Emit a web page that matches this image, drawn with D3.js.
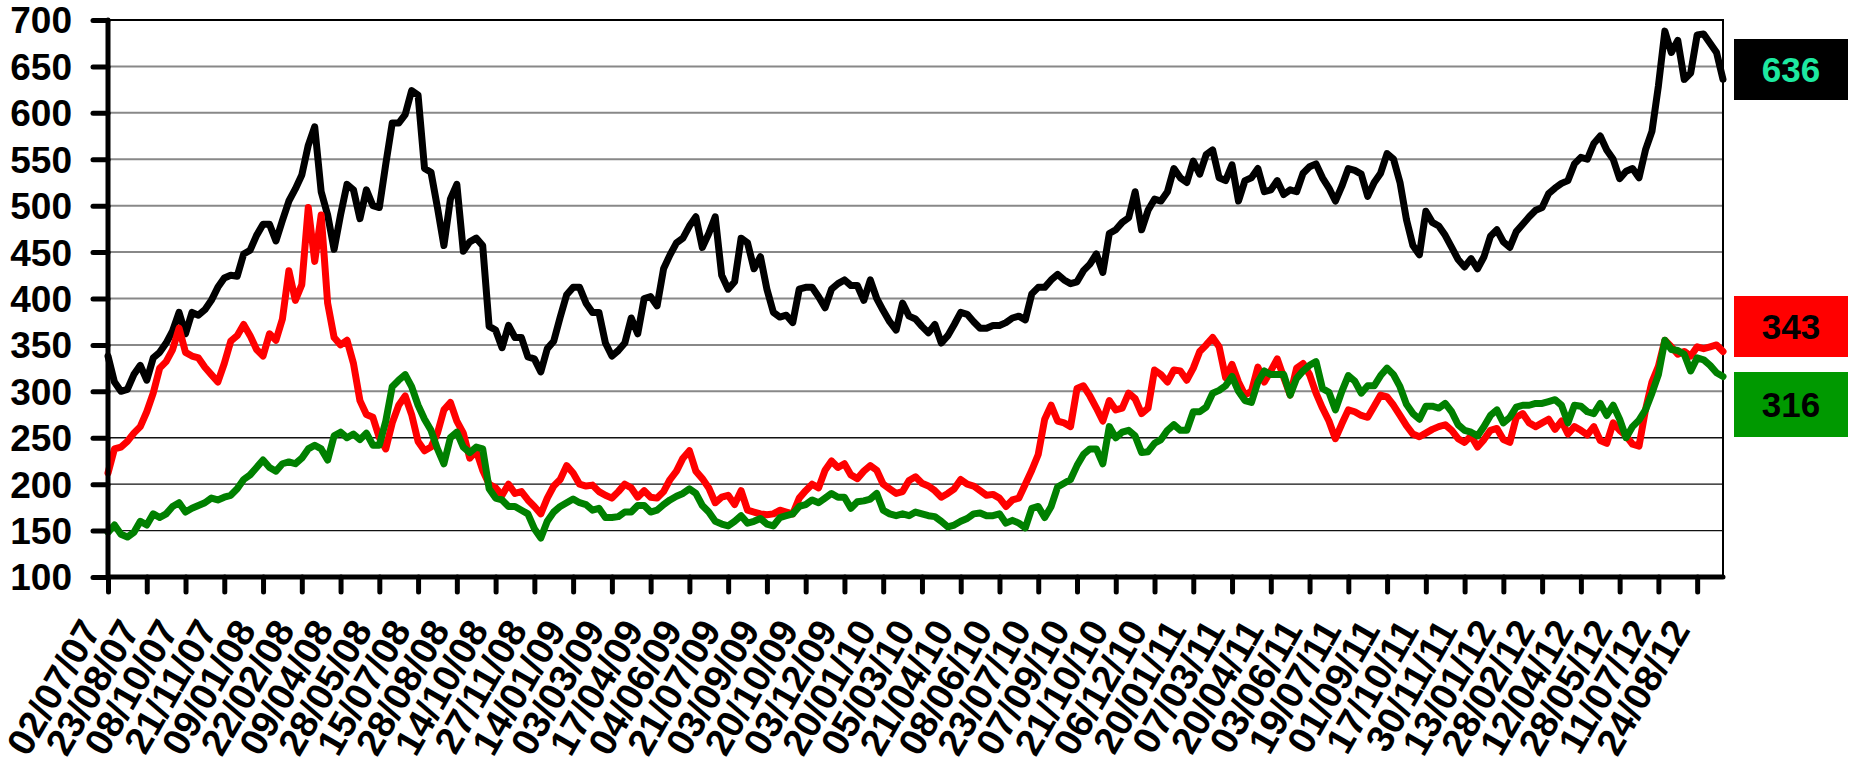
<!DOCTYPE html>
<html>
<head>
<meta charset="utf-8">
<script src="https://cdn.jsdelivr.net/npm/d3@7/dist/d3.min.js"></script>
<style>
	html, body { margin: 0; padding: 0; background: #fff; }
	#chart { width: 1854px; height: 763px; }
	#chart text { font-family: Arial, "Liberation Sans", sans-serif; font-weight: bold; }
</style>
</head>
<body>
<div id="chart"></div>
<script>
//series, 6 samples per labelled interval
var blackSeries = [
	338,310,300,302,318,328,312,336,342,352,
	365,385,362,385,382,388,398,412,422,425,
	424,448,452,468,480,480,462,484,505,518,
	533,565,585,515,490,453,490,523,517,486,
	517,500,498,545,589,589,598,624,619,540,
	536,498,457,507,523,451,461,465,457,370,
	366,347,371,358,358,337,335,321,346,354,
	380,404,412,412,395,385,385,352,338,344,
	352,379,362,400,402,392,432,447,460,465,
	478,488,455,470,488,425,410,418,465,460,
	432,445,410,385,380,382,374,410,412,412,
	402,390,410,416,420,414,414,398,420,400,
	387,375,366,395,381,378,370,363,372,352,
	360,372,385,383,375,368,368,371,371,374,
	379,381,377,405,412,412,420,426,420,416,
	418,430,437,448,428,470,474,482,487,515,
	474,495,507,505,515,540,530,525,548,534,
	555,560,530,527,544,505,527,530,540,515,
	517,527,512,517,515,535,542,545,530,519,
	505,521,540,538,534,510,525,535,556,550,
	525,485,457,447,494,482,478,468,455,442,
	434,443,432,445,467,474,461,455,472,480,
	488,495,498,513,519,524,527,545,552,550,
	567,575,560,550,529,537,540,530,560,580,
	629,688,665,678,636,643,684,685,675,665,
	636
];

var redSeries = [
	212,238,240,246,255,262,278,298,325,332,
	345,368,342,338,336,326,318,310,330,354,
	360,372,360,345,338,362,355,378,430,398,
	415,498,440,490,395,358,350,355,330,290,
	275,272,250,238,266,285,295,275,246,236,
	240,255,280,288,268,255,228,236,215,200,
	196,188,200,190,192,183,176,168,185,198,
	205,220,212,200,198,199,192,188,185,192,
	200,196,186,193,186,185,192,205,214,228,
	236,214,206,196,180,186,188,178,193,172,
	170,168,167,168,172,170,168,185,193,200,
	196,215,225,218,222,210,206,214,220,215,
	200,195,190,192,204,208,201,198,193,186,
	190,195,205,200,198,193,188,189,185,176,
	183,185,200,215,232,270,285,268,266,262,
	303,306,295,282,268,290,280,282,298,292,
	276,282,323,318,310,323,322,312,325,343,
	350,358,348,315,329,310,296,300,326,310,
	322,335,315,296,325,330,318,298,282,268,
	249,265,280,278,274,272,284,296,294,285,
	274,263,254,251,255,259,262,264,258,249,
	245,252,240,248,258,260,248,245,272,276,
	266,262,266,270,259,268,254,262,258,253,
	262,247,244,266,258,252,243,241,280,310,
	327,355,348,340,343,338,348,346,348,350,
	343
];

var greenSeries = [
	148,156,146,143,148,160,156,168,164,168,
	176,180,170,174,177,180,185,183,186,188,
	195,205,210,218,226,218,214,222,224,222,
	228,238,242,238,226,252,256,250,254,248,
	255,242,242,268,305,312,318,305,285,270,
	258,238,222,250,256,240,234,240,238,195,
	185,183,176,176,172,168,152,142,160,170,
	176,180,184,180,178,172,174,164,164,165,
	170,170,177,177,170,172,178,183,187,190,
	195,190,177,170,160,157,155,160,166,158,
	160,163,157,155,164,166,168,176,178,183,
	180,185,190,186,186,174,181,182,184,190,
	172,168,166,168,166,170,168,166,165,160,
	154,156,160,163,168,169,166,166,168,158,
	161,158,153,174,176,164,176,197,201,205,
	220,232,238,238,222,262,250,256,258,252,
	234,235,244,248,258,264,258,258,278,278,
	283,298,301,306,316,300,290,288,310,322,
	318,318,318,296,314,322,328,332,303,299,
	280,300,317,311,298,306,306,317,325,318,
	305,286,276,270,284,284,282,287,278,264,
	258,256,252,262,274,280,266,272,283,285,
	285,287,287,289,291,285,266,285,284,278,
	276,287,274,285,270,250,262,269,280,298,
	318,355,345,344,340,322,336,334,328,320,
	316
];

var dateLabels = [
	"02/07/07","23/08/07","08/10/07","21/11/07","09/01/08","22/02/08","09/04/08",
	"28/05/08","15/07/08","28/08/08","14/10/08","27/11/08","14/01/09","03/03/09",
	"17/04/09","04/06/09","21/07/09","03/09/09","20/10/09","03/12/09","20/01/10",
	"05/03/10","21/04/10","08/06/10","23/07/10","07/09/10","21/10/10","06/12/10",
	"20/01/11","07/03/11","20/04/11","03/06/11","19/07/11","01/09/11","17/10/11",
	"30/11/11","13/01/12","28/02/12","12/04/12","28/05/12","11/07/12","24/08/12"
];
var samplesPerLabel = 6;

var yTicks = [100,150,200,250,300,350,400,450,500,550,600,650,700];
var seriesColors = ["#000000", "#ff0000", "#008000"];
var lastValues = [636, 343, 316];

var myChart = function(opts){
	this.element = opts.element;
	this.series = opts.series;
	this.draw(this.element);
}

myChart.prototype.draw = function(chartElement){
	this.width = 1854;
	this.height = 763;
	this.plotBox = { left: 108, right: 1723, top: 20, bottom: 577 };

	chartElement.innerHTML = '';
	this.svg = d3.select(chartElement).append('svg')
		.attr('width', this.width)
		.attr('height', this.height);

	this.x = d3.scaleLinear()
		.domain([0, blackSeries.length - 1])
		.range([this.plotBox.left, this.plotBox.right]);
	this.y = d3.scaleLinear()
		.domain([100, 700])
		.range([this.plotBox.bottom, this.plotBox.top]);

	this.addGrid();
	this.addLines();
	this.addAxes();
	this.addValueBoxes();
}

myChart.prototype.addGrid = function(){
	var that = this;
	var b = this.plotBox;

	this.svg.append('g').selectAll('line')
		.data(yTicks.filter(function(d){ return d > 100 && d < 700; }))
		.join('line')
		.attr('x1', b.left).attr('x2', b.right)
		.attr('y1', function(d){ return that.y(d); })
		.attr('y2', function(d){ return that.y(d); })
		.attr('stroke', function(d){ return d <= 250 ? '#111' : '#888'; })
		.attr('stroke-width', function(d){ return d <= 250 ? 1.3 : 2; });

	//top and right border
	this.svg.append('path')
		.attr('d', 'M' + b.left + ',' + b.top + 'H' + b.right + 'V' + b.bottom)
		.attr('fill', 'none')
		.attr('stroke', '#000')
		.attr('stroke-width', 2);
}

myChart.prototype.addLines = function(){
	var that = this;
	var line = d3.line()
		.x(function(d, i){ return that.x(i); })
		.y(function(d){ return that.y(d); });

	this.series.forEach(function(s, i){
		that.svg.append('path')
			.datum(s)
			.attr('d', line)
			.attr('fill', 'none')
			.attr('stroke', seriesColors[i])
			.attr('stroke-width', 7)
			.attr('stroke-linejoin', 'round')
			.attr('stroke-linecap', 'round');
	});
}

myChart.prototype.addAxes = function(){
	var that = this;
	var b = this.plotBox;

	//y axis
	var yAxis = d3.axisLeft(this.y)
		.tickValues(yTicks)
		.tickSize(15)
		.tickPadding(21);
	var gy = this.svg.append('g')
		.attr('transform', 'translate(' + b.left + ',0)')
		.call(yAxis);
	gy.select('.domain').remove();
	gy.selectAll('.tick line')
		.attr('stroke', '#000').attr('stroke-width', 5).attr('stroke-linecap', 'round');
	gy.selectAll('.tick text')
		.attr('fill', '#000')
		.attr('font-size', 37)
		.attr('dy', '0.35em');

	//x axis, one tick per label
	var tickIdx = dateLabels.map(function(d, i){ return i * samplesPerLabel; });
	var xAxis = d3.axisBottom(this.x)
		.tickValues(tickIdx)
		.tickSize(15)
		.tickFormat('');
	var gx = this.svg.append('g')
		.attr('transform', 'translate(0,' + b.bottom + ')')
		.call(xAxis);
	gx.select('.domain').remove();
	gx.selectAll('.tick line')
		.attr('stroke', '#000').attr('stroke-width', 5).attr('stroke-linecap', 'round');

	this.svg.append('g').selectAll('text')
		.data(dateLabels)
		.join('text')
		.attr('transform', function(d, i){
			return 'translate(' + (that.x(tickIdx[i]) - 6) + ',' + (b.bottom + 53) + ') rotate(-60)';
		})
		.attr('text-anchor', 'end')
		.attr('font-size', 38)
		.attr('fill', '#000')
		.text(function(d){ return d; });

	//thick axis lines
	this.svg.append('path')
		.attr('d', 'M' + b.left + ',' + b.top + 'V' + b.bottom + 'H' + b.right)
		.attr('fill', 'none')
		.attr('stroke', '#000')
		.attr('stroke-width', 5)
		.attr('stroke-linecap', 'round');
}

myChart.prototype.addValueBoxes = function(){
	var boxes = [
		{ top: 39, h: 61, fill: '#000000', ink: '#1de9a0' },
		{ top: 296, h: 61, fill: '#ff0000', ink: '#000000' },
		{ top: 372, h: 65, fill: '#009900', ink: '#000000' }
	];
	var g = this.svg.append('g');
	boxes.forEach(function(bx, i){
		g.append('rect')
			.attr('x', 1734).attr('y', bx.top)
			.attr('width', 114).attr('height', bx.h)
			.attr('fill', bx.fill);
		g.append('text')
			.attr('x', 1791).attr('y', bx.top + bx.h / 2 + 12)
			.attr('text-anchor', 'middle')
			.attr('font-size', 35)
			.attr('fill', bx.ink)
			.text(lastValues[i]);
	});
}

new myChart({
	element: document.getElementById('chart'),
	series: [blackSeries, redSeries, greenSeries]
});
</script>
</body>
</html>
